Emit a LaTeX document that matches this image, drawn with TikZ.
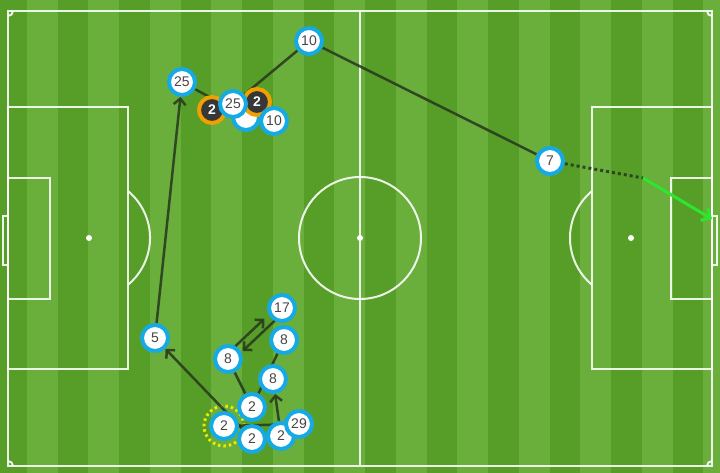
\documentclass[tikz,border=0pt]{standalone}
\usepackage{fontspec}
\newfontfamily\numfont{Liberation Sans}
\definecolor{turflight}{RGB}{106,174,60}
\definecolor{turfdark}{RGB}{87,158,40}
\definecolor{skyring}{RGB}{22,170,228}
\definecolor{numgrey}{RGB}{70,70,70}
\definecolor{rivalring}{RGB}{240,160,0}
\definecolor{rivalfill}{RGB}{55,55,55}
\definecolor{passdark}{RGB}{38,55,30}
\definecolor{shotgreen}{RGB}{45,230,45}
\definecolor{startyellow}{RGB}{235,235,0}
\usepackage{tikz}
\usetikzlibrary{arrows.meta, positioning, calc}
\pgfdeclarelayer{turf}
\pgfdeclarelayer{passes}
\pgfsetlayers{turf,passes,main}

\begin{document}
\begin{tikzpicture}[x=1pt, y=-1pt,
  pitchline/.style={draw=white, draw opacity=0.88, line width=2pt},
  player/.style={circle, draw=skyring, fill=white, line width=4pt, minimum size=26pt, inner sep=0pt, text=numgrey, font={\numfont\fontsize{14pt}{14pt}\selectfont}},
  rival/.style={player, draw=rivalring, fill=rivalfill, text=white, font={\numfont\bfseries\fontsize{14pt}{14pt}\selectfont}},
  pass/.style={draw=passdark, line width=2.5pt, draw opacity=0.85},
  passarrow/.style={pass, -{Straight Barb[length=6pt, width=12pt]}},
  shot/.style={draw=shotgreen, line width=3pt, -{Straight Barb[length=7pt, width=14pt]}}]
  \useasboundingbox (0,0) rectangle (720,473);

  % the pitch
  \begin{pgfonlayer}{turf}
    \fill[turflight] (0,0) rectangle (720,473);
    \foreach \k in {0,...,11}
      \fill[turfdark] ({-4+61.5*\k},0) rectangle ({26.75+61.5*\k},473);
    \draw[pitchline] (8,11) rectangle (712,466);
    \draw[pitchline] (360,11) -- (360,466);
    \draw[pitchline] (360,238) circle (61pt);
    \fill[white] (360,238) circle (3pt);
    % left end
    \draw[pitchline] (8,107) rectangle (128,369);
    \draw[pitchline] (8,178) rectangle (50,299);
    \draw[pitchline] (3,216) rectangle (8,265);
    \fill[white] (89,238) circle (3pt);
    \draw[pitchline] (128,191) arc[start angle=50.3, end angle=-50.3, radius=61pt];
    % right end
    \draw[pitchline] (592,107) rectangle (712,369);
    \draw[pitchline] (671,178) rectangle (712,299);
    \draw[pitchline] (712,216) rectangle (717,265);
    \fill[white] (631,238) circle (3pt);
    \draw[pitchline] (592,191) arc[start angle=129.7, end angle=230.3, radius=61pt];
    % corners
    \draw[pitchline] (13,11) arc[start angle=0, end angle=-90, radius=5pt];
    \draw[pitchline] (707,11) arc[start angle=180, end angle=270, radius=5pt];
    \draw[pitchline] (13,466) arc[start angle=0, end angle=90, radius=5pt];
    \draw[pitchline] (707,466) arc[start angle=180, end angle=90, radius=5pt];
  \end{pgfonlayer}

  % players
  \node[player] (p10top) at (309,41) {10};
  \node[player] (p25left) at (182,82) {25};
  \node[player] (phidden) at (246,117) {};
  \node[rival] (r2left) at (212,110) {2};
  \node[rival] (r2right) at (257,102) {2};
  \node[player] (p25mid) at (233,104) {25};
  \node[player] (p10low) at (274,121) {10};
  \node[player] (p7) at (550,161) {7};
  \node[player] (p5) at (155,338) {5};
  \node[player] (p17) at (282,308) {17};
  \node[player] (p8right) at (284,340) {8};
  \node[player] (p8left) at (228,359) {8};
  \node[player] (p8low) at (273,379) {8};
  \node[player] (p2top) at (252,407) {2};
  \node[player] (p2start) at (224,426) {2};
  \node[player] (p2bottom) at (252,439) {2};
  \node[player] (p2right) at (281,436) {2};
  \node[player] (p29) at (299,424) {29};
  \coordinate (shotbend) at (643,178);
  \coordinate (shotend) at (712,219);

  % passes
  \begin{pgfonlayer}{passes}
    \draw[startyellow, line width=3pt, dash pattern=on 2.5pt off 3pt] (p2start) circle (20pt);
    \draw[pass] (p2start) -- (p29);
    \draw[passarrow] (p2right) -- (p8low);
    \draw[pass] (p2top) -- (p8left);
    \draw[pass] (p2top) -- (p8right);
    \draw[passarrow, shorten <=12pt, shorten >=20pt] ([xshift=-3pt, yshift=3pt]p8left.center) -- ([xshift=-3pt, yshift=3pt]p17.center);
    \draw[passarrow, shorten <=12pt, shorten >=16pt] ([xshift=3pt, yshift=-3pt]p17.center) -- ([xshift=3pt, yshift=-3pt]p8left.center);
    \draw[passarrow] (p2bottom) -- (p5);
    \draw[passarrow] (p5) -- (p25left);
    \draw[pass] (p25left) -- (phidden);
    \draw[pass] (p25mid) -- (p10top);
    \draw[pass] (p10top) -- (p7);
    \draw[pass, line width=3pt, dash pattern=on 3pt off 3pt] (p7) -- (shotbend);
    \draw[shot] (shotbend) -- (shotend);
  \end{pgfonlayer}
\end{tikzpicture}
\end{document}
